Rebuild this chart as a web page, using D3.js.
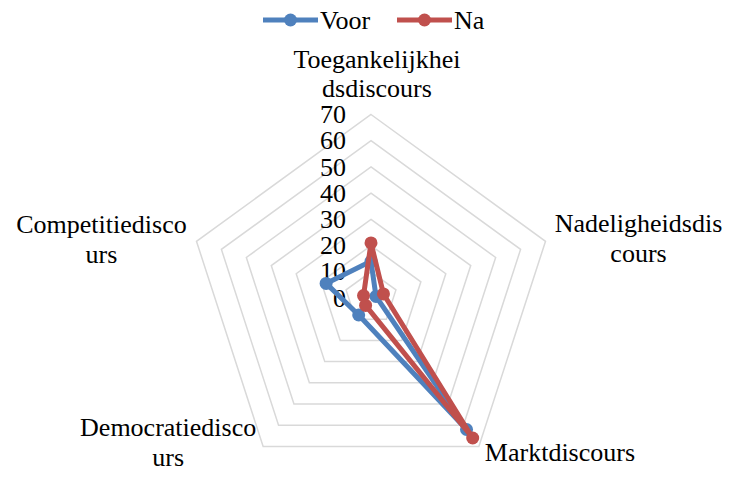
<!DOCTYPE html>
<html>
<head>
<meta charset="utf-8">
<script src="https://cdn.jsdelivr.net/npm/d3@7"></script>
<style>
  html, body { margin: 0; padding: 0; background: #fff; }
  svg, svg text { font-family: "Times New Roman", "Liberation Serif", "DejaVu Serif", serif; }
  svg { display: block; }
</style>
</head>
<body>
<svg id="chart" width="738" height="479"></svg>
<script>
// ---- data ----
const categories = ["Toegankelijkheidsdiscours", "Nadeligheidsdiscours", "Marktdiscours", "Democratiediscours", "Competitiediscours"];
const categoryLines = [["Toegankelijkhei", "dsdiscours"], ["Nadeligheidsdis", "cours"], ["Marktdiscours"], ["Democratiedisco", "urs"], ["Competitiedisco", "urs"]];
const seriesNames = ["Voor", "Na"];
const voor = [14, 2, 62, 8, 18];
const na = [21, 5, 66, 3.5, 3];
const tickValues = [0, 10, 20, 30, 40, 50, 60, 70];
const colors = ["#4F81BD", "#C0504D"];

// ---- layout ----
const FONT = "'Times New Roman', 'Liberation Serif', serif";
const svg = d3.select("#chart");
const cx = 371, cy = 298, R = 183.5;
const r = d3.scaleLinear().domain([0, 70]).range([0, R]);
const angle = d3.scalePoint().domain(categories).range([0, 2 * Math.PI * 4 / 5]);
const pt = (cat, v) => {
  const a = angle(cat) - Math.PI / 2;
  return [cx + r(v) * Math.cos(a), cy + r(v) * Math.sin(a)];
};

// grid rings
const g = svg.append("g");
tickValues.filter(t => t > 0).forEach(t => {
  g.append("polygon")
    .attr("points", categories.map(c => pt(c, t).join(",")).join(" "))
    .attr("fill", "none").attr("stroke", "#d9d9d9").attr("stroke-width", 1.5);
});

// tick labels
g.selectAll("text.tick").data(tickValues).join("text")
  .attr("class", "tick")
  .attr("x", cx - 25)
  .attr("y", d => cy - r(d))
  .attr("dy", "0.33em")
  .attr("text-anchor", "end")
  .attr("font-family", FONT)
  .attr("font-size", 26)
  .attr("fill", "#000")
  .text(d => d);

// category labels (offsets from outer vertex)
const labelOffsets = [
  { dx: 6, dy: -47, anchor: "middle" },
  { dx: 93, dy: -9, anchor: "middle" },
  { dx: 6, dy: 15, anchor: "start" },
  { dx: -95, dy: -10, anchor: "middle" },
  { dx: -95, dy: -8, anchor: "middle" }
];
categories.forEach((c, i) => {
  const [x, y] = pt(c, 70);
  const o = labelOffsets[i];
  const t = svg.append("text")
    .attr("x", x + o.dx).attr("y", y + o.dy)
    .attr("text-anchor", o.anchor)
    .attr("font-family", FONT)
    .attr("font-size", 26).attr("fill", "#000");
  categoryLines[i].forEach((ln, j) => {
    t.append("tspan").attr("x", x + o.dx).attr("dy", j === 0 ? 0 : 29.5).text(ln);
  });
});

// series
const line = d3.line().curve(d3.curveLinearClosed);
[voor, na].forEach((vals, s) => {
  const pts = categories.map((c, i) => pt(c, vals[i]));
  svg.append("path")
    .attr("d", line(pts))
    .attr("fill", "none")
    .attr("stroke", colors[s])
    .attr("stroke-width", 5)
    .attr("stroke-linejoin", "round");
  svg.selectAll(null).data(pts).join("circle")
    .attr("cx", d => d[0]).attr("cy", d => d[1])
    .attr("r", 6.5).attr("fill", colors[s]);
});

// legend
const legendX = [263, 397];
seriesNames.forEach((n, i) => {
  const lg = svg.append("g").attr("transform", `translate(${legendX[i]},20)`);
  lg.append("line").attr("x1", 0).attr("x2", 55).attr("y1", 0).attr("y2", 0)
    .attr("stroke", colors[i]).attr("stroke-width", 5);
  lg.append("circle").attr("cx", 27.5).attr("cy", 0).attr("r", 6.5).attr("fill", colors[i]);
  lg.append("text").attr("x", 57).attr("y", 0).attr("dy", "0.33em")
    .attr("font-family", FONT)
    .attr("font-size", 26).attr("fill", "#000").text(n);
});
</script>
</body>
</html>
